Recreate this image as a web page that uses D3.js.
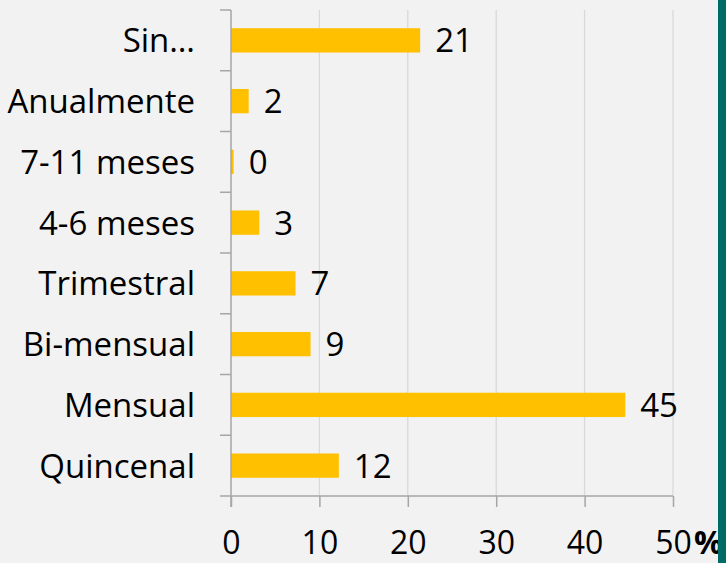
<!DOCTYPE html>
<html>
<head>
<meta charset="utf-8">
<script src="https://cdnjs.cloudflare.com/ajax/libs/d3/7.8.5/d3.min.js"></script>
<style>
  html, body { margin: 0; padding: 0; background: #f2f2f2; }
  svg { display: block; }
  text { font-family: "Open Sans", Lato, sans-serif; fill: #000; }
</style>
</head>
<body>
<svg id="chart" width="726" height="563"></svg>
<script>
// Frequency categories, top to bottom
const categories = ["Sin…", "Anualmente", "7-11 meses", "4-6 meses", "Trimestral", "Bi-mensual", "Mensual", "Quincenal"];
// Share of respondents (%)
const values = [21.4, 2.0, 0.3, 3.2, 7.3, 9.0, 44.6, 12.2];
// Horizontal axis ticks
const xTicks = [0, 10, 20, 30, 40, 50];
const unitLabel = "%";

const W = 726, H = 563;
const plotLeft = 231, plotRight = 673, plotTop = 10, plotBottom = 496;
const fontSize = 33;
const tickFontSize = 32;
const fontFamily = "'Open Sans', Lato, sans-serif";

const svg = d3.select("#chart");

svg.append("rect").attr("width", W).attr("height", H).attr("fill", "#f2f2f2");

const x = d3.scaleLinear().domain([0, 50]).range([plotLeft, plotRight]);
const y = d3.scaleBand().domain(categories).range([plotTop, plotBottom])
  .paddingInner(0.6).paddingOuter(0.3);

// Vertical gridlines
svg.append("g").selectAll("line")
  .data(xTicks.filter(t => t > 0))
  .join("line")
  .attr("x1", d => x(d)).attr("x2", d => x(d))
  .attr("y1", plotTop).attr("y2", plotBottom)
  .attr("stroke", "#d9d9d9").attr("stroke-width", 1.3);

// Bars
svg.append("g").selectAll("rect")
  .data(values)
  .join("rect")
  .attr("x", x(0))
  .attr("y", (d, i) => y(categories[i]))
  .attr("width", d => x(d) - x(0))
  .attr("height", y.bandwidth())
  .attr("fill", "#ffc000");

// Value labels
const fmt = d3.format(".0f");
svg.append("g").selectAll("text")
  .data(values)
  .join("text")
  .attr("x", d => x(d) + 15)
  .attr("y", (d, i) => y(categories[i]) + y.bandwidth() / 2)
  .attr("dy", "0.36em")
  .attr("font-size", fontSize)
  .text(d => fmt(d));

// Category axis: tick marks on band boundaries
const axisColor = "#a6a6a6";
const boundaries = d3.range(categories.length + 1).map(i => plotTop + i * y.step());
svg.append("g").selectAll("line")
  .data(boundaries)
  .join("line")
  .attr("x1", plotLeft - 11).attr("x2", plotLeft)
  .attr("y1", d => d).attr("y2", d => d)
  .attr("stroke", axisColor).attr("stroke-width", 1.5);
svg.append("line")
  .attr("x1", plotLeft).attr("x2", plotLeft)
  .attr("y1", plotTop).attr("y2", plotBottom + 11)
  .attr("stroke", axisColor).attr("stroke-width", 1.5);

svg.append("g").selectAll("text")
  .data(categories)
  .join("text")
  .attr("x", 195)
  .attr("y", d => y(d) + y.bandwidth() / 2)
  .attr("dy", "0.36em")
  .attr("text-anchor", "end")
  .attr("font-size", fontSize)
  .text(d => d);

// Value axis
const xAxis = d3.axisBottom(x).tickValues(xTicks).tickSize(11).tickPadding(24).tickFormat(d3.format("d"));
const gx = svg.append("g").attr("transform", `translate(0,${plotBottom})`).call(xAxis);
gx.select(".domain").attr("stroke", axisColor).attr("stroke-width", 1.5)
  .attr("d", `M${plotLeft},0H${plotRight}`);
gx.selectAll(".tick line").attr("stroke", axisColor).attr("stroke-width", 1.5);
gx.selectAll(".tick text")
  .attr("font-size", tickFontSize)
  .attr("font-family", fontFamily)
  .attr("fill", "#000");

svg.append("text")
  .attr("x", 694).attr("y", 554)
  .attr("font-size", tickFontSize)
  .attr("font-weight", "bold")
  .text(unitLabel);

// Right edge band
svg.append("rect").attr("x", 718).attr("y", 0).attr("width", 8).attr("height", H).attr("fill", "#006b66");
</script>
</body>
</html>
